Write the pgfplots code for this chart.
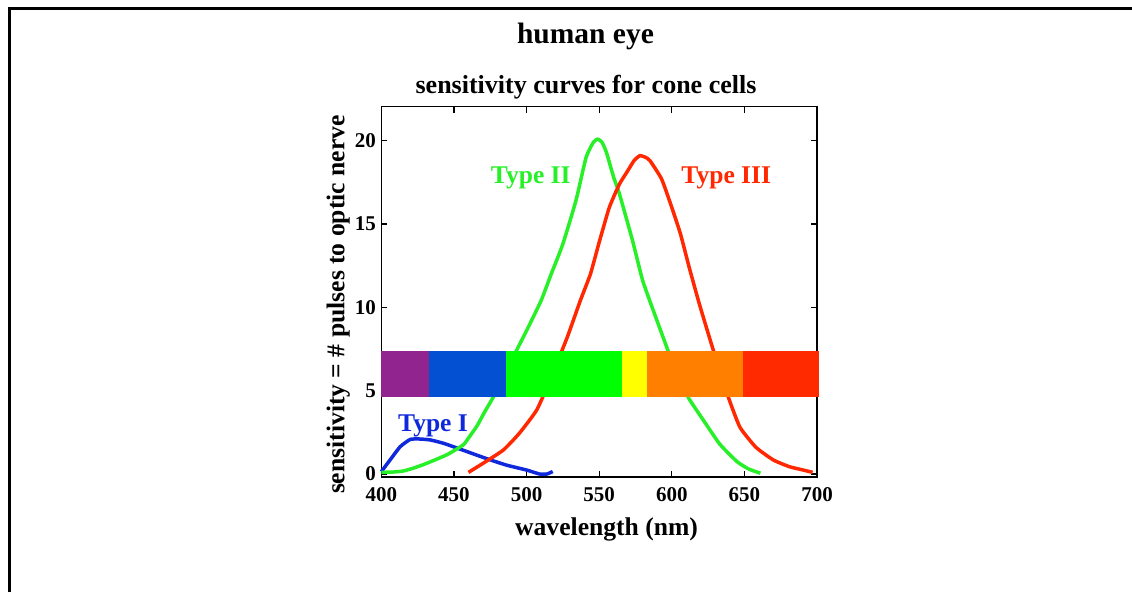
\documentclass[border=0pt]{standalone}
\usepackage{pgfplots}
\pgfplotsset{compat=1.18}
\usepackage{fontspec}
\setmainfont{Liberation Serif}
\definecolor{cpurple}{RGB}{146,36,144}
\definecolor{cblue}{RGB}{3,80,210}
\definecolor{cgreen}{RGB}{0,255,0}
\definecolor{cyellow}{RGB}{255,255,0}
\definecolor{corange}{RGB}{255,127,0}
\definecolor{cred}{RGB}{255,42,0}
\definecolor{lblue}{RGB}{16,40,220}
\definecolor{lgreen}{RGB}{40,240,40}
\definecolor{lred}{RGB}{255,40,0}
\begin{document}
\begin{tikzpicture}[x=1pt,y=1pt]
\useasboundingbox (0,0) rectangle (1132,592);
\draw[line width=3pt] (9,0) -- (9,583) -- (1132,583);
\node[anchor=base, font=\bfseries\fontsize{29.5}{30}\selectfont] at (585.5,548.5) {human eye};
\node[anchor=base, font=\bfseries\fontsize{26}{27}\selectfont] at (586,498) {sensitivity curves for cone cells};
\begin{axis}[
 at={(381.3pt,115.3pt)}, anchor=south west,
 width=435.7pt, height=370pt, scale only axis,
 xmin=400, xmax=700, ymin=-0.16, ymax=22.04,
 xtick={400,450,...,700}, ytick={0,5,10,15,20},
 tick align=inside, major tick length=6pt,
 axis line style={line width=1.6pt},
 every tick/.style={line width=1.3pt, black},
 ticklabel style={font=\bfseries\fontsize{21}{21}\selectfont},
 xticklabel style={yshift=-7pt},
 yticklabel style={xshift=-2pt},
 /pgf/number format/assume math mode=true,
 xlabel={wavelength (nm)},
 ylabel={sensitivity = \# pulses to optic nerve},
 label style={font=\bfseries\fontsize{25.6}{26}\selectfont},
 xlabel style={at={(axis description cs:0.517,-0.158)}, anchor=base},
 ylabel style={at={(axis description cs:-0.085,0.465)}, anchor=base},
 clip=false,
]
\addplot[lblue, line width=3.5pt, line join=round, smooth, tension=0.3] coordinates {
(400,0.14) (406,0.84) (413,1.64) (420,2.08) (427,2.1) (434,2.04) (443,1.84)
(456,1.44) (472,0.94) (486,0.54) (500,0.24) (509,0.0) (514,0.0) (518,0.15)};
\addplot[lgreen, line width=3.5pt, line join=round, smooth, tension=0.3] coordinates {
(400,0.1) (408,0.12) (415,0.18) (422,0.35) (430,0.6) (437,0.85) (445,1.15)
(452,1.5) (457,1.8) (462,2.4) (466,2.9) (471,3.7) (477,4.6) (485,6.0)
(493,7.4) (500,8.6) (510,10.4) (517,12.0) (525,13.8) (534,16.4) (541,19.0)
(546,19.9) (549,20.1) (552,19.9) (555,19.3) (560,17.8) (564,16.8) (573,14.0)
(580,11.6) (589,9.4) (597,7.5) (604,5.8) (612,4.5) (622,3.2) (633,1.8)
(645,0.74) (653,0.3) (661,0.05)};
\addplot[lred, line width=3.5pt, line join=round, smooth, tension=0.3] coordinates {
(460,0.1) (470,0.64) (484,1.44) (495,2.44) (507,3.84) (516,5.6) (528,8.2)
(537,10.4) (544,12.0) (550,13.9) (557,16.0) (564,17.4) (569,18.1) (574,18.8)
(578,19.1) (582,19.0) (585,18.8) (593,17.7) (600,16.0) (606,14.4) (612,12.4)
(619,10.2) (628,7.6) (639,4.6) (647,2.8) (658,1.6) (670,0.84) (681,0.44)
(690,0.25) (697,0.1)};
% spectrum bar
\addplot[fill=cpurple, draw=none] coordinates {(400,4.65) (433,4.65) (433,7.4) (400,7.4)} -- cycle;
\addplot[fill=cblue, draw=none] coordinates {(433,4.65) (485.8,4.65) (485.8,7.4) (433,7.4)} -- cycle;
\addplot[fill=cgreen, draw=none] coordinates {(485.8,4.65) (565.7,4.65) (565.7,7.4) (485.8,7.4)} -- cycle;
\addplot[fill=cyellow, draw=none] coordinates {(565.7,4.65) (582.8,4.65) (582.8,7.4) (565.7,7.4)} -- cycle;
\addplot[fill=corange, draw=none] coordinates {(582.8,4.65) (648.7,4.65) (648.7,7.4) (582.8,7.4)} -- cycle;
\addplot[fill=cred, draw=none] coordinates {(648.7,4.65) (701.5,4.65) (701.5,7.4) (648.7,7.4)} -- cycle;
\node[anchor=base, text=lblue, font=\bfseries\fontsize{25.5}{26}\selectfont] at (axis cs:435.6,2.54) {Type I};
\node[anchor=base, text=lgreen, font=\bfseries\fontsize{25.5}{26}\selectfont] at (axis cs:502.9,17.46) {Type II};
\node[anchor=base, text=lred, font=\bfseries\fontsize{25.5}{26}\selectfont] at (axis cs:637.5,17.46) {Type III};
\end{axis}
\end{tikzpicture}
\end{document}
